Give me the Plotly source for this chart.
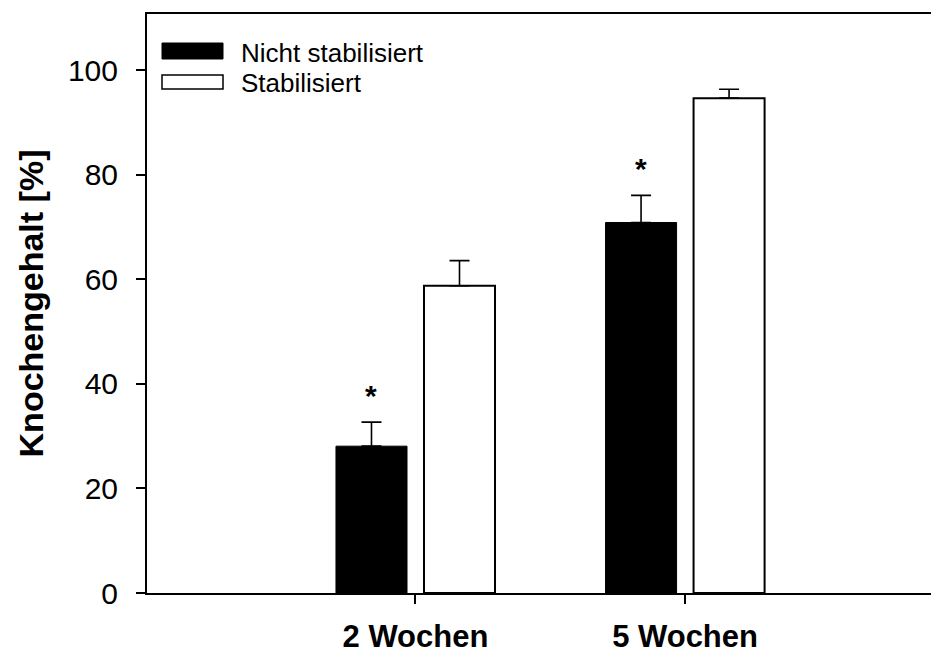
import plotly.graph_objects as go

categories = ["2 Wochen", "5 Wochen"]
series_names = ["Nicht stabilisiert", "Stabilisiert"]
nicht_stab = [28.1, 70.9]
nicht_stab_err = [4.6, 5.2]
stab = [58.8, 94.7]
stab_err = [4.8, 1.7]
y_ticks = [0, 20, 40, 60, 80, 100]

# the page body has an 8px margin; compensate so the figure sits like the reference
OFF = 8
W, H = 939 - OFF, 652 - OFF
L, R, T, B = 147 - OFF, 0, 14 - OFF, 59
PW, PH = W - L - R, H - T - B
FONT = "Liberation Sans, Arial, Helvetica, sans-serif"


def px_x(px):
    # px given in reference (page) pixels
    return (px - OFF - L) / PW


def px_y(py):
    return (H - B - (py - OFF)) / PH


fig = go.Figure()
fig.add_trace(go.Bar(
    x=categories, y=nicht_stab, name=series_names[0],
    marker=dict(color="black", line=dict(color="black", width=1)),
    error_y=dict(type="data", symmetric=False, array=nicht_stab_err,
                 arrayminus=[0, 0], color="black", thickness=1.6, width=10),
    showlegend=False,
))
fig.add_trace(go.Bar(
    x=categories, y=stab, name=series_names[1],
    marker=dict(color="white", line=dict(color="black", width=2)),
    error_y=dict(type="data", symmetric=False, array=stab_err,
                 arrayminus=[0, 0], color="black", thickness=1.6, width=10),
    showlegend=False,
))

# significance stars above the black bars
for c, v, e in zip(categories, nicht_stab, nicht_stab_err):
    fig.add_annotation(
        x=c, y=v + e, xref="x", yref="y", text="<b>*</b>", showarrow=False,
        xshift=-44, yanchor="middle", yshift=27,
        font=dict(family=FONT, size=30, color="black"),
    )

# custom legend
shapes = [
    dict(type="rect", xref="paper", yref="paper",
         x0=px_x(162), x1=px_x(223), y0=px_y(59), y1=px_y(43),
         fillcolor="black", line=dict(color="black", width=1)),
    dict(type="rect", xref="paper", yref="paper",
         x0=px_x(162), x1=px_x(223), y0=px_y(89), y1=px_y(75),
         fillcolor="white", line=dict(color="black", width=1.5)),
]
for name, cy in zip(series_names, [53, 83]):
    fig.add_annotation(
        x=px_x(239), y=px_y(cy), xref="paper", yref="paper", text=name,
        showarrow=False, xanchor="left", yanchor="middle",
        font=dict(family=FONT, size=26, color="black"),
    )

fig.update_layout(
    width=W, height=H,
    margin=dict(l=L, r=R, t=T, b=B, pad=0, autoexpand=False),
    paper_bgcolor="white", plot_bgcolor="white",
    barmode="group", bargap=0.347, bargroupgap=0.193,
    shapes=shapes,
    font=dict(family=FONT, color="black"),
    xaxis=dict(
        type="category", categoryorder="array", categoryarray=categories,
        range=[-0.996, 1.942], showline=True, linecolor="black", linewidth=2,
        mirror=True, ticks="outside", ticklen=9, tickwidth=1.5, tickcolor="black",
        showgrid=False, zeroline=False, automargin=False,
        tickfont=dict(family=FONT, size=31, color="black", weight="bold"),
        ticklabelstandoff=6,
    ),
    yaxis=dict(
        range=[0, 110.8], tickvals=y_ticks, showline=True, linecolor="black",
        linewidth=2, ticks="outside", ticklen=9, tickwidth=1.5, tickcolor="black",
        showgrid=False, zeroline=False, automargin=False,
        tickfont=dict(family=FONT, size=30, color="black"),
        ticklabelstandoff=12,
        title=dict(text="<b>Knochengehalt [%]</b>", standoff=14,
                   font=dict(family=FONT, size=34, color="black")),
    ),
)

fig.write_html("out.html")
